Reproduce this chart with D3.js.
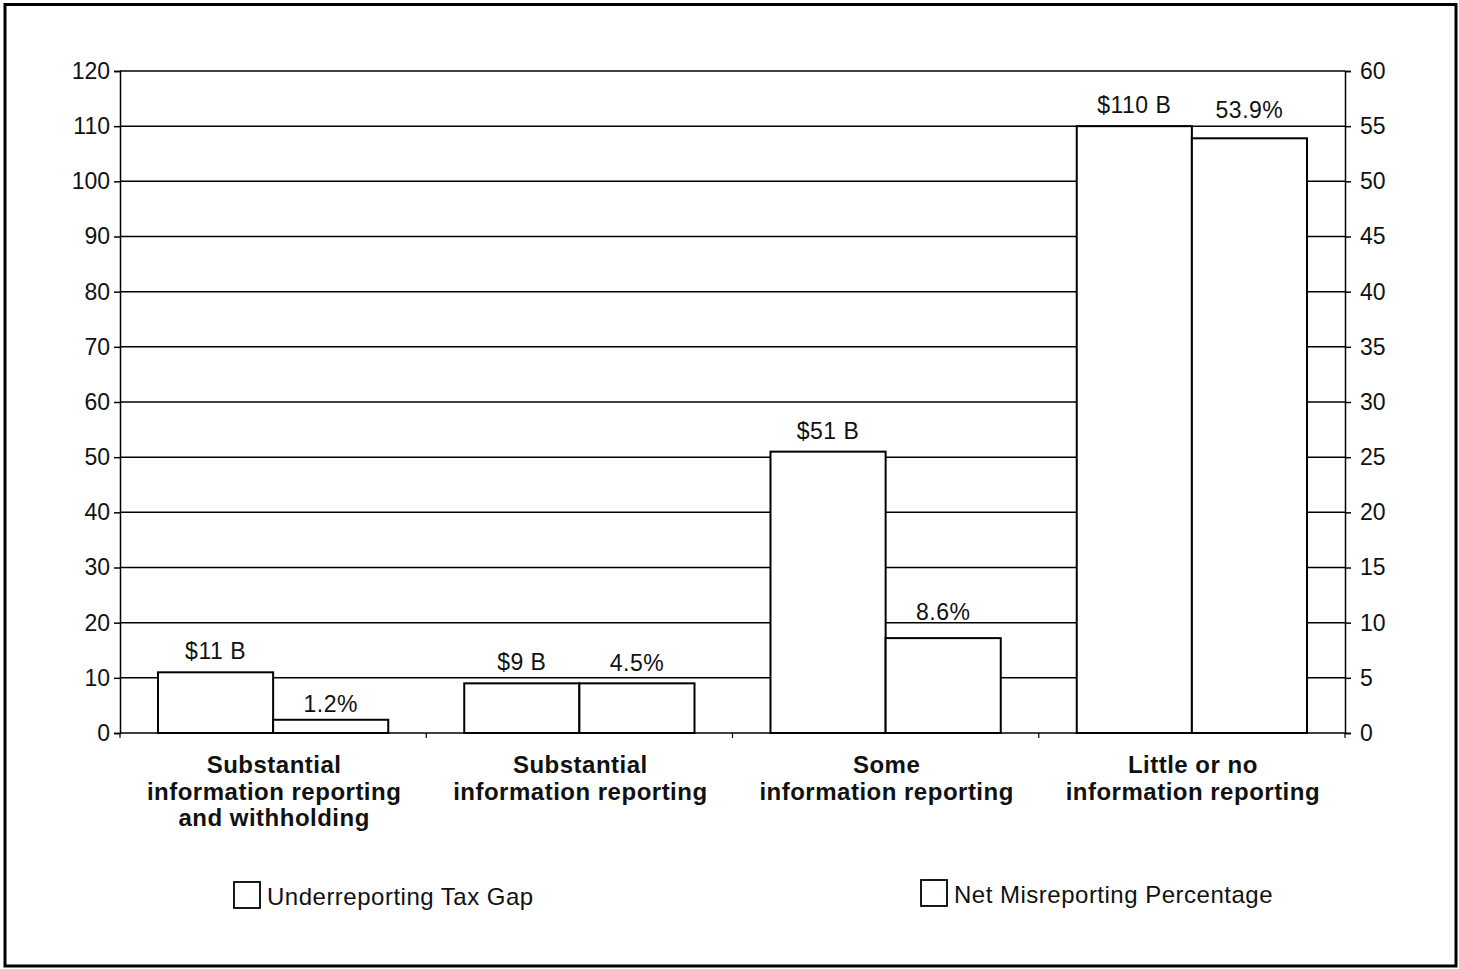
<!DOCTYPE html>
<html>
<head>
<meta charset="utf-8">
<script src="https://cdn.jsdelivr.net/npm/d3@7"></script>
<style>
  body { margin: 0; background: #fff; }
  svg { display: block; font-family: "Liberation Sans", Arial, sans-serif; }
</style>
</head>
<body>
<div id="chartContainer"></div>
<script>
// Data
const categories = [
  ["Substantial", "information reporting", "and withholding"],
  ["Substantial", "information reporting"],
  ["Some", "information reporting"],
  ["Little or no", "information reporting"]
];
const taxGap = [11, 9, 51, 110];           // billions, left axis
const misreportPct = [1.2, 4.5, 8.6, 53.9]; // percent, right axis
const taxGapLabels = ["$11 B", "$9 B", "$51 B", "$110 B"];
const pctLabels = ["1.2%", "4.5%", "8.6%", "53.9%"];
const leftTicks = [0, 10, 20, 30, 40, 50, 60, 70, 80, 90, 100, 110, 120];
const rightTicks = [0, 5, 10, 15, 20, 25, 30, 35, 40, 45, 50, 55, 60];
const seriesNames = ["Underreporting Tax Gap", "Net Misreporting Percentage"];

const width = 1459, height = 969;
const margin = { top: 71, right: 114, bottom: 236, left: 120 };
const innerW = width - margin.left - margin.right;
const innerH = height - margin.top - margin.bottom;

const svg = d3.select("#chartContainer")
  .append("svg")
  .attr("width", width)
  .attr("height", height);

// outer frame
svg.append("rect")
  .attr("x", 5).attr("y", 4.5)
  .attr("width", 1451).attr("height", 961.5)
  .attr("fill", "none")
  .attr("stroke", "#000")
  .attr("stroke-width", 3);

const g = svg.append("g")
  .attr("transform", `translate(${margin.left},${margin.top})`);

// Scales
const x0 = d3.scaleBand()
  .domain(d3.range(categories.length))
  .range([0, innerW])
  .padding(0);

const x1 = d3.scaleBand()
  .domain([0, 1])
  .range([0, x0.bandwidth()])
  .paddingInner(0)
  .paddingOuter(0.33);

const yLeft = d3.scaleLinear().domain([0, 120]).range([innerH, 0]);
const yRight = d3.scaleLinear().domain([0, 60]).range([innerH, 0]);

// Gridlines
g.append("g")
  .selectAll("line")
  .data(leftTicks.filter(d => d > 0))
  .enter()
  .append("line")
  .attr("x1", 0).attr("x2", innerW)
  .attr("y1", d => yLeft(d)).attr("y2", d => yLeft(d))
  .attr("stroke", "#000")
  .attr("stroke-width", 1.5);

// Left axis
const leftAxis = g.append("g")
  .call(d3.axisLeft(yLeft).tickValues(leftTicks).tickSize(6).tickPadding(4));
leftAxis.select(".domain").attr("stroke-width", 1.5);
leftAxis.selectAll(".tick line").attr("stroke-width", 1.5);
leftAxis.selectAll("text")
  .attr("font-size", 23)
  .attr("font-family", "Liberation Sans, Arial, sans-serif")
  .attr("fill", "#111");

// Right axis
const rightAxis = g.append("g")
  .attr("transform", `translate(${innerW},0)`)
  .call(d3.axisRight(yRight).tickValues(rightTicks).tickSize(6).tickPadding(9));
rightAxis.select(".domain").attr("stroke-width", 1.5);
rightAxis.selectAll(".tick line").attr("stroke-width", 1.5);
rightAxis.selectAll("text")
  .attr("font-size", 23)
  .attr("font-family", "Liberation Sans, Arial, sans-serif")
  .attr("fill", "#111");

// X axis (band boundaries as ticks)
const xAxis = g.append("g")
  .attr("transform", `translate(0,${innerH})`);
xAxis.append("line")
  .attr("x1", 0).attr("x2", innerW)
  .attr("stroke", "#000").attr("stroke-width", 1.5);
xAxis.selectAll(".xtick")
  .data(d3.range(categories.length + 1))
  .enter()
  .append("line")
  .attr("class", "xtick")
  .attr("x1", d => d * x0.step()).attr("x2", d => d * x0.step())
  .attr("y1", 0).attr("y2", 5)
  .attr("stroke", "#000").attr("stroke-width", 1.2);

// Category labels
xAxis.selectAll(".cat")
  .data(categories)
  .enter()
  .append("text")
  .attr("class", "cat")
  .attr("text-anchor", "middle")
  .attr("font-size", 24)
  .attr("font-weight", "bold")
  .attr("letter-spacing", 0.5)
  .attr("fill", "#111")
  .each(function (lines, i) {
    d3.select(this).selectAll("tspan")
      .data(lines)
      .enter()
      .append("tspan")
      .attr("x", x0(i) + x0.bandwidth() / 2 + 1)
      .attr("y", (d, j) => 40 + j * 26.5)
      .text(d => d);
  });

// Bars
const groups = g.selectAll(".group")
  .data(d3.range(categories.length))
  .enter()
  .append("g")
  .attr("class", "group")
  .attr("transform", i => `translate(${x0(i)},0)`);

groups.append("rect")
  .attr("x", x1(0))
  .attr("width", x1.bandwidth())
  .attr("y", i => yLeft(taxGap[i]))
  .attr("height", i => innerH - yLeft(taxGap[i]))
  .attr("fill", "#fff")
  .attr("stroke", "#000")
  .attr("stroke-width", 2);

groups.append("rect")
  .attr("x", x1(1))
  .attr("width", x1.bandwidth())
  .attr("y", i => yRight(misreportPct[i]))
  .attr("height", i => innerH - yRight(misreportPct[i]))
  .attr("fill", "#fff")
  .attr("stroke", "#000")
  .attr("stroke-width", 2);

// Value labels (small per-label lift, as in the original layout)
const pctLift = [8, 12, 18, 20];

groups.append("text")
  .attr("x", x1(0) + x1.bandwidth() / 2)
  .attr("y", i => yLeft(taxGap[i]) - 13)
  .attr("text-anchor", "middle")
  .attr("font-size", 23)
  .attr("letter-spacing", 0.5)
  .attr("fill", "#111")
  .text(i => taxGapLabels[i]);

groups.append("text")
  .attr("x", x1(1) + x1.bandwidth() / 2)
  .attr("y", i => yRight(misreportPct[i]) - pctLift[i])
  .attr("text-anchor", "middle")
  .attr("font-size", 23)
  .attr("letter-spacing", 0.5)
  .attr("fill", "#111")
  .text(i => pctLabels[i]);

// Legend
const legendX = [234, 921];
const legend = svg.selectAll(".legend")
  .data(seriesNames)
  .enter()
  .append("g")
  .attr("class", "legend")
  .attr("transform", (d, i) => `translate(${legendX[i]},${i === 0 ? 882 : 880})`);

legend.append("rect")
  .attr("width", 26).attr("height", 26)
  .attr("fill", "#fff")
  .attr("stroke", "#000")
  .attr("stroke-width", 1.8);

legend.append("text")
  .attr("x", 33)
  .attr("y", 23)
  .attr("font-size", 24)
  .attr("letter-spacing", 0.5)
  .attr("fill", "#111")
  .text(d => d);
</script>
</body>
</html>
